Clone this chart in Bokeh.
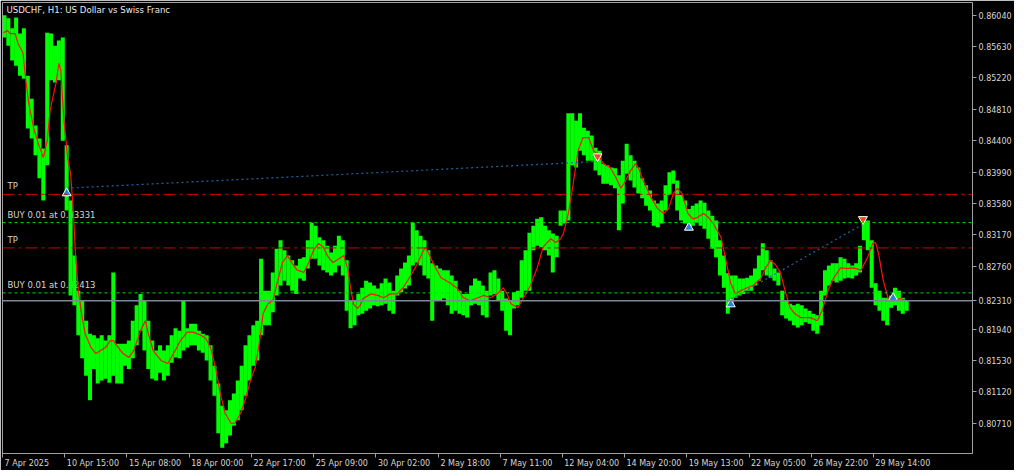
from bokeh.plotting import figure
from bokeh.models import (FixedTicker, Label, Range1d, ColumnDataSource, Span,
                          PrintfTickFormatter)
from bokeh.embed import file_html
from bokeh.resources import INLINE
from bokeh.core.properties import value

# ---------------- data ----------------
title_text = "USDCHF, H1:  US Dollar vs Swiss Franc"

# H1 bars aggregated in groups of 4 bars: high / low of each group
bar_high = [
    0.8604, 0.8600, 0.8587, 0.8601, 0.8580, 0.8587, 0.8525, 0.8495, 0.8460, 0.8443,
    0.8430, 0.8581, 0.8580, 0.8564, 0.8571, 0.8575, 0.8434, 0.8362, 0.8290, 0.8244,
    0.8231, 0.8205, 0.8188, 0.8186, 0.8182, 0.8186, 0.8179, 0.8186, 0.8268, 0.8175,
    0.8175, 0.8175, 0.8179, 0.8205, 0.8225, 0.8240, 0.8231, 0.8205, 0.8179, 0.8166,
    0.8173, 0.8166, 0.8173, 0.8186, 0.8195, 0.8192, 0.8231, 0.8195, 0.8201, 0.8201,
    0.8192, 0.8188, 0.8186, 0.8173, 0.8146, 0.8123, 0.8094, 0.8088, 0.8101, 0.8110,
    0.8127, 0.8146, 0.8173, 0.8186, 0.8199, 0.8205, 0.8286, 0.8244, 0.8244, 0.8268,
    0.8299, 0.8310, 0.8297, 0.8290, 0.8284, 0.8277, 0.8286, 0.8288, 0.8310, 0.8333,
    0.8329, 0.8314, 0.8310, 0.8303, 0.8294, 0.8303, 0.8316, 0.8310, 0.8284, 0.8231,
    0.8231, 0.8240, 0.8248, 0.8257, 0.8255, 0.8251, 0.8247, 0.8254, 0.8260, 0.8255,
    0.8244, 0.8264, 0.8273, 0.8281, 0.8290, 0.8333, 0.8323, 0.8316, 0.8310, 0.8297,
    0.8280, 0.8277, 0.8273, 0.8271, 0.8271, 0.8264, 0.8257, 0.8244, 0.8240, 0.8240,
    0.8251, 0.8260, 0.8257, 0.8251, 0.8244, 0.8268, 0.8271, 0.8260, 0.8244, 0.8234,
    0.8231, 0.8242, 0.8244, 0.8284, 0.8297, 0.8320, 0.8329, 0.8338, 0.8340, 0.8329,
    0.8323, 0.8319, 0.8316, 0.8349, 0.8349, 0.8476, 0.8476, 0.8466, 0.8476, 0.8457,
    0.8453, 0.8447, 0.8431, 0.8427, 0.8410, 0.8408, 0.8405, 0.8404, 0.8395, 0.8414,
    0.8436, 0.8421, 0.8414, 0.8405, 0.8391, 0.8382, 0.8375, 0.8362, 0.8358, 0.8362,
    0.8382, 0.8399, 0.8401, 0.8388, 0.8369, 0.8362, 0.8351, 0.8355, 0.8358, 0.8362,
    0.8359, 0.8349, 0.8342, 0.8336, 0.8310, 0.8290, 0.8267, 0.8264, 0.8264, 0.8260,
    0.8260, 0.8261, 0.8264, 0.8273, 0.8290, 0.8306, 0.8297, 0.8284, 0.8273, 0.8268,
    0.8244, 0.8231, 0.8227, 0.8225, 0.8227, 0.8225, 0.8221, 0.8218, 0.8214, 0.8212,
    0.8244, 0.8271, 0.8277, 0.8280, 0.8280, 0.8288, 0.8286, 0.8280, 0.8277, 0.8280,
    0.8303, 0.8340, 0.8336, 0.8310, 0.8254, 0.8244, 0.8235, 0.8235, 0.8238, 0.8248,
    0.8244, 0.8235, 0.8231,
]
bar_low = [
    0.8575, 0.8564, 0.8545, 0.8538, 0.8525, 0.8521, 0.8456, 0.8443, 0.8421, 0.8391,
    0.8362, 0.8408, 0.8519, 0.8516, 0.8519, 0.8440, 0.8349, 0.8238, 0.8225, 0.8186,
    0.8156, 0.8133, 0.8101, 0.8142, 0.8123, 0.8127, 0.8129, 0.8124, 0.8133, 0.8123,
    0.8123, 0.8146, 0.8142, 0.8156, 0.8173, 0.8192, 0.8166, 0.8142, 0.8129, 0.8127,
    0.8137, 0.8127, 0.8133, 0.8150, 0.8157, 0.8156, 0.8166, 0.8170, 0.8173, 0.8173,
    0.8166, 0.8163, 0.8153, 0.8127, 0.8107, 0.8058, 0.8039, 0.8045, 0.8055, 0.8068,
    0.8075, 0.8088, 0.8107, 0.8127, 0.8146, 0.8153, 0.8186, 0.8199, 0.8199, 0.8216,
    0.8238, 0.8251, 0.8257, 0.8251, 0.8244, 0.8240, 0.8260, 0.8257, 0.8273, 0.8286,
    0.8286, 0.8277, 0.8271, 0.8268, 0.8264, 0.8268, 0.8277, 0.8264, 0.8218, 0.8195,
    0.8199, 0.8212, 0.8214, 0.8218, 0.8221, 0.8225, 0.8224, 0.8225, 0.8227, 0.8218,
    0.8214, 0.8238, 0.8242, 0.8247, 0.8251, 0.8277, 0.8281, 0.8277, 0.8264, 0.8260,
    0.8205, 0.8231, 0.8231, 0.8234, 0.8225, 0.8214, 0.8218, 0.8214, 0.8212, 0.8209,
    0.8225, 0.8227, 0.8225, 0.8212, 0.8209, 0.8238, 0.8240, 0.8231, 0.8218, 0.8192,
    0.8186, 0.8221, 0.8225, 0.8235, 0.8244, 0.8244, 0.8297, 0.8303, 0.8301, 0.8297,
    0.8290, 0.8268, 0.8288, 0.8329, 0.8332, 0.8336, 0.8408, 0.8405, 0.8427, 0.8421,
    0.8414, 0.8414, 0.8401, 0.8395, 0.8384, 0.8384, 0.8382, 0.8378, 0.8323, 0.8358,
    0.8397, 0.8388, 0.8379, 0.8371, 0.8365, 0.8355, 0.8349, 0.8329, 0.8327, 0.8332,
    0.8349, 0.8369, 0.8384, 0.8349, 0.8336, 0.8332, 0.8327, 0.8329, 0.8333, 0.8329,
    0.8325, 0.8312, 0.8299, 0.8288, 0.8264, 0.8248, 0.8214, 0.8225, 0.8235, 0.8238,
    0.8240, 0.8244, 0.8244, 0.8251, 0.8257, 0.8271, 0.8264, 0.8261, 0.8257, 0.8251,
    0.8212, 0.8208, 0.8205, 0.8199, 0.8196, 0.8199, 0.8203, 0.8201, 0.8192, 0.8188,
    0.8199, 0.8238, 0.8251, 0.8257, 0.8255, 0.8257, 0.8260, 0.8261, 0.8260, 0.8264,
    0.8268, 0.8310, 0.8297, 0.8248, 0.8225, 0.8218, 0.8205, 0.8199, 0.8222, 0.8225,
    0.8218, 0.8214, 0.8218,
]
bars_per_group = 4

# moving average (red line): bar index and value
ma_bar = [
    1, 5, 8, 13, 16, 21, 24, 27,
    32, 37, 42, 46, 49, 55, 58, 60,
    63, 67, 70, 73, 75, 78, 82, 85,
    91, 96, 101, 106, 111, 114, 119, 124,
    130, 135, 142, 147, 150, 155, 163, 170,
    176, 183, 190, 196, 204, 209, 214, 219,
    224, 229, 235, 239, 245, 250, 255, 260,
    265, 268, 273, 278, 283, 288, 293, 298,
    303, 310, 315, 320, 325, 330, 335, 340,
    346, 351, 355, 358, 361, 365, 368, 371,
    379, 386, 392, 399, 406, 412, 420, 427,
    432, 435, 438, 443, 451, 461, 468, 474,
    481, 489, 495, 502, 509, 515, 519, 523,
    530, 536, 543, 550, 556, 564, 569, 574,
    577, 582, 587, 592, 597, 603, 608, 613,
    618, 625, 631, 636, 641, 646, 651, 654,
    659, 667, 674, 680, 685, 690, 694, 699,
    705, 710, 715, 721, 726, 731, 739, 744,
    749, 754, 759, 766, 772, 780, 785, 790,
    795, 800, 805, 810, 815, 821, 831, 838,
    843, 849, 855, 862, 869, 875, 883, 890,
    895, 898, 901, 906, 911, 916, 924, 929,
]
ma_value = [
    0.8581, 0.8584, 0.8580, 0.8580, 0.8567, 0.8555, 0.8519, 0.8489,
    0.8457, 0.8436, 0.8418, 0.8440, 0.8480, 0.8515, 0.8541, 0.8532,
    0.8470, 0.8418, 0.8397, 0.8345, 0.8293, 0.8244, 0.8209, 0.8188,
    0.8170, 0.8162, 0.8166, 0.8170, 0.8179, 0.8179, 0.8170, 0.8162,
    0.8157, 0.8166, 0.8192, 0.8205, 0.8188, 0.8166, 0.8153, 0.8149,
    0.8162, 0.8179, 0.8190, 0.8190, 0.8186, 0.8182, 0.8170, 0.8144,
    0.8110, 0.8084, 0.8071, 0.8071, 0.8084, 0.8103, 0.8127, 0.8144,
    0.8183, 0.8214, 0.8227, 0.8231, 0.8257, 0.8281, 0.8290, 0.8280,
    0.8271, 0.8268, 0.8281, 0.8297, 0.8306, 0.8301, 0.8288, 0.8281,
    0.8286, 0.8290, 0.8274, 0.8248, 0.8227, 0.8221, 0.8225, 0.8234,
    0.8240, 0.8238, 0.8235, 0.8240, 0.8240, 0.8248, 0.8264, 0.8280,
    0.8294, 0.8301, 0.8294, 0.8280, 0.8261, 0.8254, 0.8247, 0.8235,
    0.8231, 0.8235, 0.8238, 0.8235, 0.8240, 0.8248, 0.8240, 0.8227,
    0.8222, 0.8235, 0.8251, 0.8274, 0.8301, 0.8312, 0.8307, 0.8312,
    0.8319, 0.8345, 0.8384, 0.8427, 0.8444, 0.8444, 0.8427, 0.8421,
    0.8410, 0.8405, 0.8392, 0.8378, 0.8388, 0.8401, 0.8410, 0.8405,
    0.8388, 0.8366, 0.8351, 0.8345, 0.8351, 0.8371, 0.8378, 0.8371,
    0.8345, 0.8338, 0.8340, 0.8345, 0.8340, 0.8332, 0.8314, 0.8284,
    0.8254, 0.8240, 0.8244, 0.8248, 0.8251, 0.8260, 0.8274, 0.8284,
    0.8278, 0.8268, 0.8244, 0.8222, 0.8214, 0.8209, 0.8209, 0.8205,
    0.8218, 0.8244, 0.8261, 0.8274, 0.8273, 0.8274, 0.8271, 0.8288,
    0.8306, 0.8307, 0.8293, 0.8257, 0.8234, 0.8231, 0.8234, 0.8231,
]

x_tick_bars = [0, 64, 128, 192, 256, 320, 384, 448, 512, 576, 640, 704, 768, 832, 896]
x_tick_labels = ["7 Apr 2025", "10 Apr 15:00", "15 Apr 08:00", "18 Apr 00:00",
                 "22 Apr 17:00", "25 Apr 09:00", "30 Apr 02:00", "2 May 18:00",
                 "7 May 11:00", "12 May 04:00", "14 May 20:00", "19 May 13:00",
                 "22 May 05:00", "26 May 22:00", "29 May 14:00"]
y_ticks = [0.86040, 0.85630, 0.85220, 0.84810, 0.84400, 0.83990, 0.83580, 0.83170,
           0.82760, 0.82350, 0.81940, 0.81530, 0.81120, 0.80710]

level_price = [0.83700, 0.83331, 0.83000, 0.82413]
level_text = ["TP", "BUY 0.01 at 0.83331", "TP", "BUY 0.01 at 0.82413"]
level_kind = ["tp", "buy", "tp", "buy"]
current_price = 0.82310

# closed trades: open (buy) -> close (sell)
trade_open_bar = [66, 749]
trade_open_price = [0.8378, 0.8233]
trade_close_bar = [612, 885]
trade_close_price = [0.8413, 0.8331]
# open positions
position_bar = [706, 916]
position_price = [0.83331, 0.82413]

# ---------------- figure ----------------
FONT = "DejaVu Sans"
X0, X1 = 0.0, 997.7
Y0, Y1 = 0.80315, 0.86206
FW, FH = 970, 451
AX = "#a0a0a0"
TXT = "#d6d6d6"

p = figure(frame_width=FW, frame_height=FH, x_range=Range1d(X0, X1), y_range=Range1d(Y0, Y1),
           y_axis_location="right", output_backend="svg", toolbar_location=None,
           min_border_left=2, min_border_top=2, min_border_bottom=0, min_border_right=0,
           background_fill_color="black", border_fill_color="black",
           outline_line_color=AX, outline_line_width=1)
p.grid.visible = False

# y axis (right); the current price replaces the tick that it hides in the picture
shown_ticks = [t for t in y_ticks if abs(t - current_price) > 0.0006] + [current_price]
p.yaxis.ticker = FixedTicker(ticks=shown_ticks)
p.yaxis.formatter = PrintfTickFormatter(format="%.5f")
p.yaxis.axis_line_color = AX
p.yaxis.major_tick_line_color = AX
p.yaxis.major_tick_in = 0
p.yaxis.major_tick_out = 4
p.yaxis.minor_tick_line_color = None
p.yaxis.major_label_text_color = TXT
p.yaxis.major_label_text_font = FONT
p.yaxis.major_label_text_font_size = "8px"
p.yaxis.major_label_standoff = 2

# x axis: tick marks at the bar positions (minor), labels left-aligned to them
ppb = FW / (X1 - X0)
CW = {"0": .636, "1": .636, "2": .636, "3": .636, "4": .636, "5": .636, "6": .636,
      "7": .636, "8": .636, "9": .636, " ": .318, ":": .337, "A": .684, "M": .863,
      "p": .635, "r": .411, "a": .613, "y": .592}
def text_px(s, size=8.0):
    return sum(CW.get(c, .6) for c in s) * size

label_pos = [int(round(b + (text_px(s) / 2 + 2) / ppb)) for b, s in zip(x_tick_bars, x_tick_labels)]
p.xaxis.ticker = FixedTicker(ticks=label_pos, minor_ticks=x_tick_bars)
p.xaxis.major_label_overrides = dict(zip(label_pos, x_tick_labels))
p.xaxis.axis_line_color = AX
p.xaxis.major_tick_line_color = None
p.xaxis.major_tick_in = 0
p.xaxis.major_tick_out = 4
p.xaxis.minor_tick_line_color = AX
p.xaxis.minor_tick_in = 0
p.xaxis.minor_tick_out = 4
p.xaxis.major_label_text_color = TXT
p.xaxis.major_label_text_font = FONT
p.xaxis.major_label_text_font_size = "8px"
p.xaxis.major_label_standoff = 1

# level labels (under the bars)
p.text(x=[X0] * len(level_text), y=level_price, text=level_text, x_offset=5, y_offset=-3,
       text_baseline="bottom", text_align="left", text_color=TXT,
       text_font=value(FONT), text_font_size="8.5px")

# price bars
bar_x = [i * bars_per_group + bars_per_group / 2 for i in range(len(bar_high))]
src = ColumnDataSource(dict(x=bar_x, top=bar_high, bottom=bar_low))
p.vbar(x="x", top="top", bottom="bottom", width=bars_per_group * 1.04, source=src,
       fill_color="#00ff00", line_color=None)

# moving average
p.line(ma_bar, ma_value, line_color="#ff1010", line_width=1.2)

# horizontal levels
for pr, kind in zip(level_price, level_kind):
    if kind == "tp":
        p.add_layout(Span(location=pr, dimension="width", line_color="#d00000",
                          line_dash="12 4 3 4", line_width=1))
    else:
        p.add_layout(Span(location=pr, dimension="width", line_color="#00dd00",
                          line_dash="3 3", line_width=1))
p.add_layout(Span(location=current_price, dimension="width", line_color="#7d8896", line_width=1.3))

# closed trades: dotted connectors and arrows
p.segment(x0=trade_open_bar, y0=trade_open_price, x1=trade_close_bar, y1=trade_close_price,
          line_color="#1f64aa", line_dash="2 3", line_width=1.2)
off = (Y1 - Y0) / FH * 5
buy_x = trade_open_bar + position_bar
buy_y = [v - off for v in trade_open_price + position_price]
p.scatter(buy_x, buy_y, marker="triangle", size=9, fill_color="#2f7fd8",
          line_color="white", line_width=1)
p.scatter(trade_close_bar, [v + off for v in trade_close_price], marker="inverted_triangle",
          size=9, fill_color="#f04a2a", line_color="white", line_width=1)

# title
p.add_layout(Label(x=X0, y=Y1, x_offset=4, y_offset=-2, text=title_text, text_baseline="top",
                   text_align="left", text_color="#e8e8e8", text_font=FONT,
                   text_font_size="8.6px"))

open("out.html", "w").write(file_html(p, INLINE))
